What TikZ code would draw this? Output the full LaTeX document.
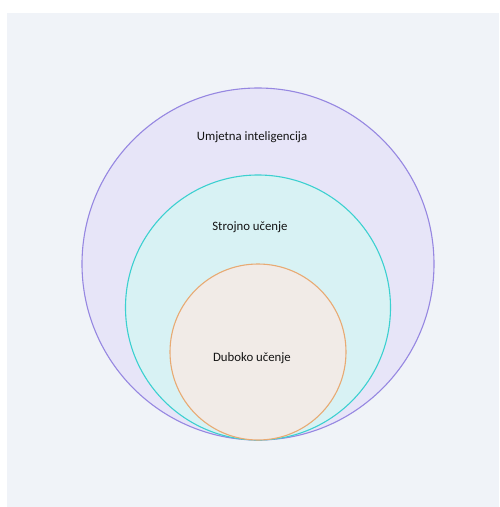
\documentclass[tikz,border=0pt]{standalone}
\usepackage{fontspec}
\setmainfont{Carlito}
\definecolor{bgc}{RGB}{240,243,248}
\definecolor{aifill}{RGB}{231,229,248}
\definecolor{aidraw}{RGB}{150,135,225}
\definecolor{mlfill}{RGB}{216,242,244}
\definecolor{mldraw}{RGB}{60,208,208}
\definecolor{dlfill}{RGB}{241,235,231}
\definecolor{dldraw}{RGB}{232,170,115}
\definecolor{txt}{RGB}{20,20,20}
\tikzset{
  ring/.style={line width=1.1pt},
  lbl/.style={font=\fontsize{12.8}{15}\selectfont, text=txt, inner sep=0pt}
}
\begin{document}
\begin{tikzpicture}[x=1pt,y=-1pt]
\useasboundingbox (0,0) rectangle (499,507);
\fill[white] (0,0) rectangle (499,507);
\fill[bgc] (7,13) rectangle (499,507);
\draw[ring, draw=aidraw, fill=aifill] (258,264) circle[radius=176];
\draw[ring, draw=mldraw, fill=mlfill] (258,307.5) circle[radius=132.5];
\draw[ring, draw=dldraw, fill=dlfill] (258,352) circle[radius=88];
\node[lbl] (ai) at (252,137) {Umjetna inteligencija};
\node[lbl] (ml) at (250,227) {Strojno učenje};
\node[lbl] (dl) at (252,358) {Duboko učenje};
\end{tikzpicture}
\end{document}
